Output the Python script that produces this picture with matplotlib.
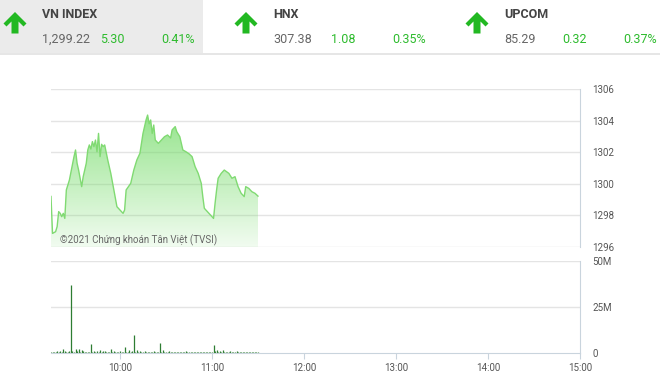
import numpy as np
import matplotlib
matplotlib.use("Agg")
import matplotlib.pyplot as plt
from matplotlib.patches import Polygon, Rectangle

plt.rcParams['font.family'] = ['Liberation Sans Narrow', 'Roboto', 'DejaVu Sans']

# header quotes
idx_names = ["VN INDEX", "HNX", "UPCOM"]
idx_values = ["1,299.22", "307.38", "85.29"]
idx_changes = ["5.30", "1.08", "0.32"]
idx_pcts = ["0.41%", "0.35%", "0.37%"]

# intraday VN-Index
price_times = ["9:15", "9:16", "9:18", "9:19", "9:20", "9:21", "9:22", "9:23", "9:24", "9:25",
               "9:27", "9:30", "9:31", "9:32", "9:33", "9:35", "9:36", "9:38", "9:39", "9:40",
               "9:41", "9:42", "9:43", "9:44", "9:45", "9:46", "9:47", "9:48", "9:49", "9:50",
               "9:52", "9:54", "9:56", "9:58", "10:00", "10:02", "10:03", "10:04", "10:07", "10:09",
               "10:11", "10:13", "10:15", "10:17", "10:18", "10:19", "10:20", "10:21", "10:22", "10:23",
               "10:25", "10:27", "10:29", "10:31", "10:33", "10:34", "10:36", "10:37", "10:39", "10:41",
               "10:43", "10:45", "10:47", "10:49", "10:51", "10:53", "10:54", "10:55", "10:58", "11:00",
               "11:01", "11:02", "11:03", "11:04", "11:06", "11:08", "11:11", "11:13", "11:15", "11:17",
               "11:19", "11:21", "11:22", "11:24", "11:26", "11:28", "11:30"]
price_values = [1299.20, 1296.86, 1296.97, 1297.29, 1298.24, 1298.13, 1297.92, 1298.13, 1297.81, 1299.61,
                1300.24, 1301.72, 1302.14, 1301.30, 1300.87, 1299.82, 1300.45, 1301.30, 1302.14, 1302.46,
                1302.20, 1302.67, 1302.35, 1302.77, 1302.03, 1303.19, 1301.72, 1302.50, 1302.35, 1302.46,
                1301.51, 1300.66, 1299.61, 1298.55, 1298.34, 1298.13, 1298.34, 1299.61, 1300.03, 1300.87,
                1301.51, 1301.93, 1303.19, 1304.04, 1304.35, 1303.80, 1304.04, 1303.19, 1303.72, 1302.77,
                1302.56, 1302.77, 1302.98, 1303.09, 1302.90, 1303.41, 1303.62, 1303.30, 1302.98, 1302.14,
                1302.03, 1301.90, 1301.72, 1301.08, 1300.66, 1300.03, 1299.19, 1298.45, 1298.13, 1297.92,
                1297.81, 1298.76, 1299.61, 1300.35, 1300.66, 1300.87, 1300.66, 1300.35, 1300.45, 1299.82,
                1299.40, 1299.19, 1299.82, 1299.71, 1299.50, 1299.40, 1299.22]

# per-minute volume in millions, 9:15 .. 11:30
vol_start = "9:15"
volumes = [0.8, 0.6, 0.7, 0.5, 0.9, 0.6, 1.2, 0.7, 2.4, 0.9,
           0.8, 0.6, 1.0, 36.8, 1.1, 0.8, 2.2, 0.9, 2.0, 0.7,
           1.5, 0.9, 0.6, 0.8, 0.5, 0.6, 4.8, 0.7, 0.9, 0.6,
           1.1, 0.8, 1.4, 0.6, 0.9, 1.2, 0.5, 0.8, 0.6, 2.0,
           0.7, 0.9, 0.5, 0.8, 0.6, 0.9, 0.7, 0.6, 3.3, 0.8,
           0.6, 1.6, 0.7, 0.9, 10.0, 0.8, 1.8, 0.6, 1.0, 0.7,
           0.5, 1.3, 0.6, 0.8, 0.5, 0.7, 0.6, 0.9, 0.5, 0.6,
           0.7, 5.3, 0.8, 1.5, 0.6, 0.7, 0.5, 0.9, 0.6, 0.5,
           0.7, 0.6, 0.4, 0.6, 0.5, 0.8, 0.4, 0.6, 1.0, 0.5,
           0.7, 0.4, 0.6, 0.5, 0.7, 0.4, 0.6, 0.5, 0.4, 0.6,
           0.5, 0.7, 0.4, 0.6, 0.5, 0.8, 4.6, 0.9, 1.8, 0.7,
           1.2, 0.6, 1.5, 0.5, 0.7, 0.4, 0.6, 1.0, 0.5, 0.6,
           0.4, 0.9, 0.5, 0.6, 0.4, 0.7, 0.5, 0.4, 0.6, 0.3,
           0.5, 0.4, 0.3, 0.5, 0.3, 0.4]

price_ticks = [1296, 1298, 1300, 1302, 1304, 1306]
vol_ticks = [0, 25, 50]
vol_ticklabels = ["0", "25M", "50M"]
hour_ticks = ["10:00", "11:00", "12:00", "13:00", "14:00", "15:00"]


def to_min(s):
    h, m = s.split(":")
    return int(h) * 60 + int(m)


t_price = np.array([to_min(s) for s in price_times])
p = np.array(price_values)
t_vol = to_min(vol_start) + np.arange(len(volumes))
v = np.array(volumes)
x0, x1 = to_min("9:15"), to_min("15:00")

GREEN = "#2dbb2d"
GRID = "#e4e4e4"
AXC = "#c9d4dd"
TXT = "#555555"

fig = plt.figure(figsize=(6.6, 3.85), dpi=100)
W, H = 660, 385


def frac(l, t, r, b):
    return [l / W, 1 - b / H, (r - l) / W, (b - t) / H]


# header overlay
hdr = fig.add_axes([0, 0, 1, 1], zorder=0)
hdr.set_xlim(0, W)
hdr.set_ylim(H, 0)
hdr.axis("off")
hdr.add_patch(Rectangle((0, 0), 203, 53, color="#ebebeb", lw=0))
hdr.plot([0, W], [53.5, 53.5], color="#e2e2e2", lw=1.2)
offs = [0, 231, 462]
for i, dx in enumerate(offs):
    cx = 15 + dx
    arrow = [(cx, 12), (cx + 11.5, 23.5), (cx + 8.5, 26.5), (cx + 3.5, 21.5), (cx + 3.5, 33.5),
             (cx - 3.5, 33.5), (cx - 3.5, 21.5), (cx - 8.5, 26.5), (cx - 11.5, 23.5)]
    hdr.add_patch(Polygon(arrow, closed=True, color="#22b822", lw=0))
    tx = 42 + dx
    hdr.text(tx, 15, idx_names[i], fontsize=9, fontweight="bold", color="#444444", va="center")
    hdr.text(tx, 39.5, idx_values[i], fontsize=9, color="#666666", va="center")
    hdr.text(tx + 58, 39.5, idx_changes[i], fontsize=9, color=GREEN, va="center")
    hdr.text(tx + 119, 39.5, idx_pcts[i], fontsize=9, color=GREEN, va="center")

# price panel
ax = fig.add_axes(frac(51, 89, 580, 247), zorder=1)
ax.patch.set_alpha(0)
ax.set_xlim(x0, x1)
ax.set_ylim(1296, 1306)
for y in price_ticks:
    ax.axhline(y, color=GRID, lw=1, zorder=0)
poly = ax.fill_between(t_price, p, 1296, color="none", lw=0)
grad = np.zeros((200, 2, 4))
grad[:, :, 0] = 0.45
grad[:, :, 1] = 0.86
grad[:, :, 2] = 0.40
grad[:, :, 3] = np.linspace(0.8, 0.1, 200)[:, None]
img = ax.imshow(grad, extent=[x0, x1, 1296, 1305], origin="upper", aspect="auto", zorder=1)
img.set_clip_path(poly.get_paths()[0], transform=ax.transData)
ax.plot(t_price, p, color="#80da72", lw=1.0, zorder=2)
ax.set_ylim(1296, 1306)
ax.yaxis.tick_right()
ax.set_yticks(price_ticks)
ax.tick_params(axis="y", length=0, pad=9, labelsize=7, labelcolor=TXT)
ax.set_xticks([])
for s in ["top", "left", "bottom"]:
    ax.spines[s].set_visible(False)
ax.spines["right"].set_color(AXC)
ax.text(0.017, 0.04, "©2021 Chứng khoán Tân Việt (TVSI)", transform=ax.transAxes,
        fontsize=7, color="#666666", va="center", family=["Roboto", "DejaVu Sans"], zorder=3)

# volume panel
av = fig.add_axes(frac(51, 261, 580, 353), zorder=1)
av.patch.set_alpha(0)
av.set_xlim(x0, x1)
av.set_ylim(0, 50)
for y in vol_ticks[1:]:
    av.axhline(y, color=GRID, lw=1, zorder=0)
av.vlines(t_vol, 0, v, color="#2e7d32", lw=0.9, zorder=2)
av.yaxis.tick_right()
av.set_yticks(vol_ticks)
av.set_yticklabels(vol_ticklabels)
av.tick_params(axis="y", length=0, pad=9, labelsize=7, labelcolor=TXT)
av.set_xticks([to_min(s) for s in hour_ticks])
av.set_xticklabels(hour_ticks)
av.tick_params(axis="x", length=4, color=AXC, pad=3, labelsize=7, labelcolor=TXT)
for s in ["top", "left"]:
    av.spines[s].set_visible(False)
for s in ["right", "bottom"]:
    av.spines[s].set_color(AXC)

fig.savefig("out.png", dpi=100)
